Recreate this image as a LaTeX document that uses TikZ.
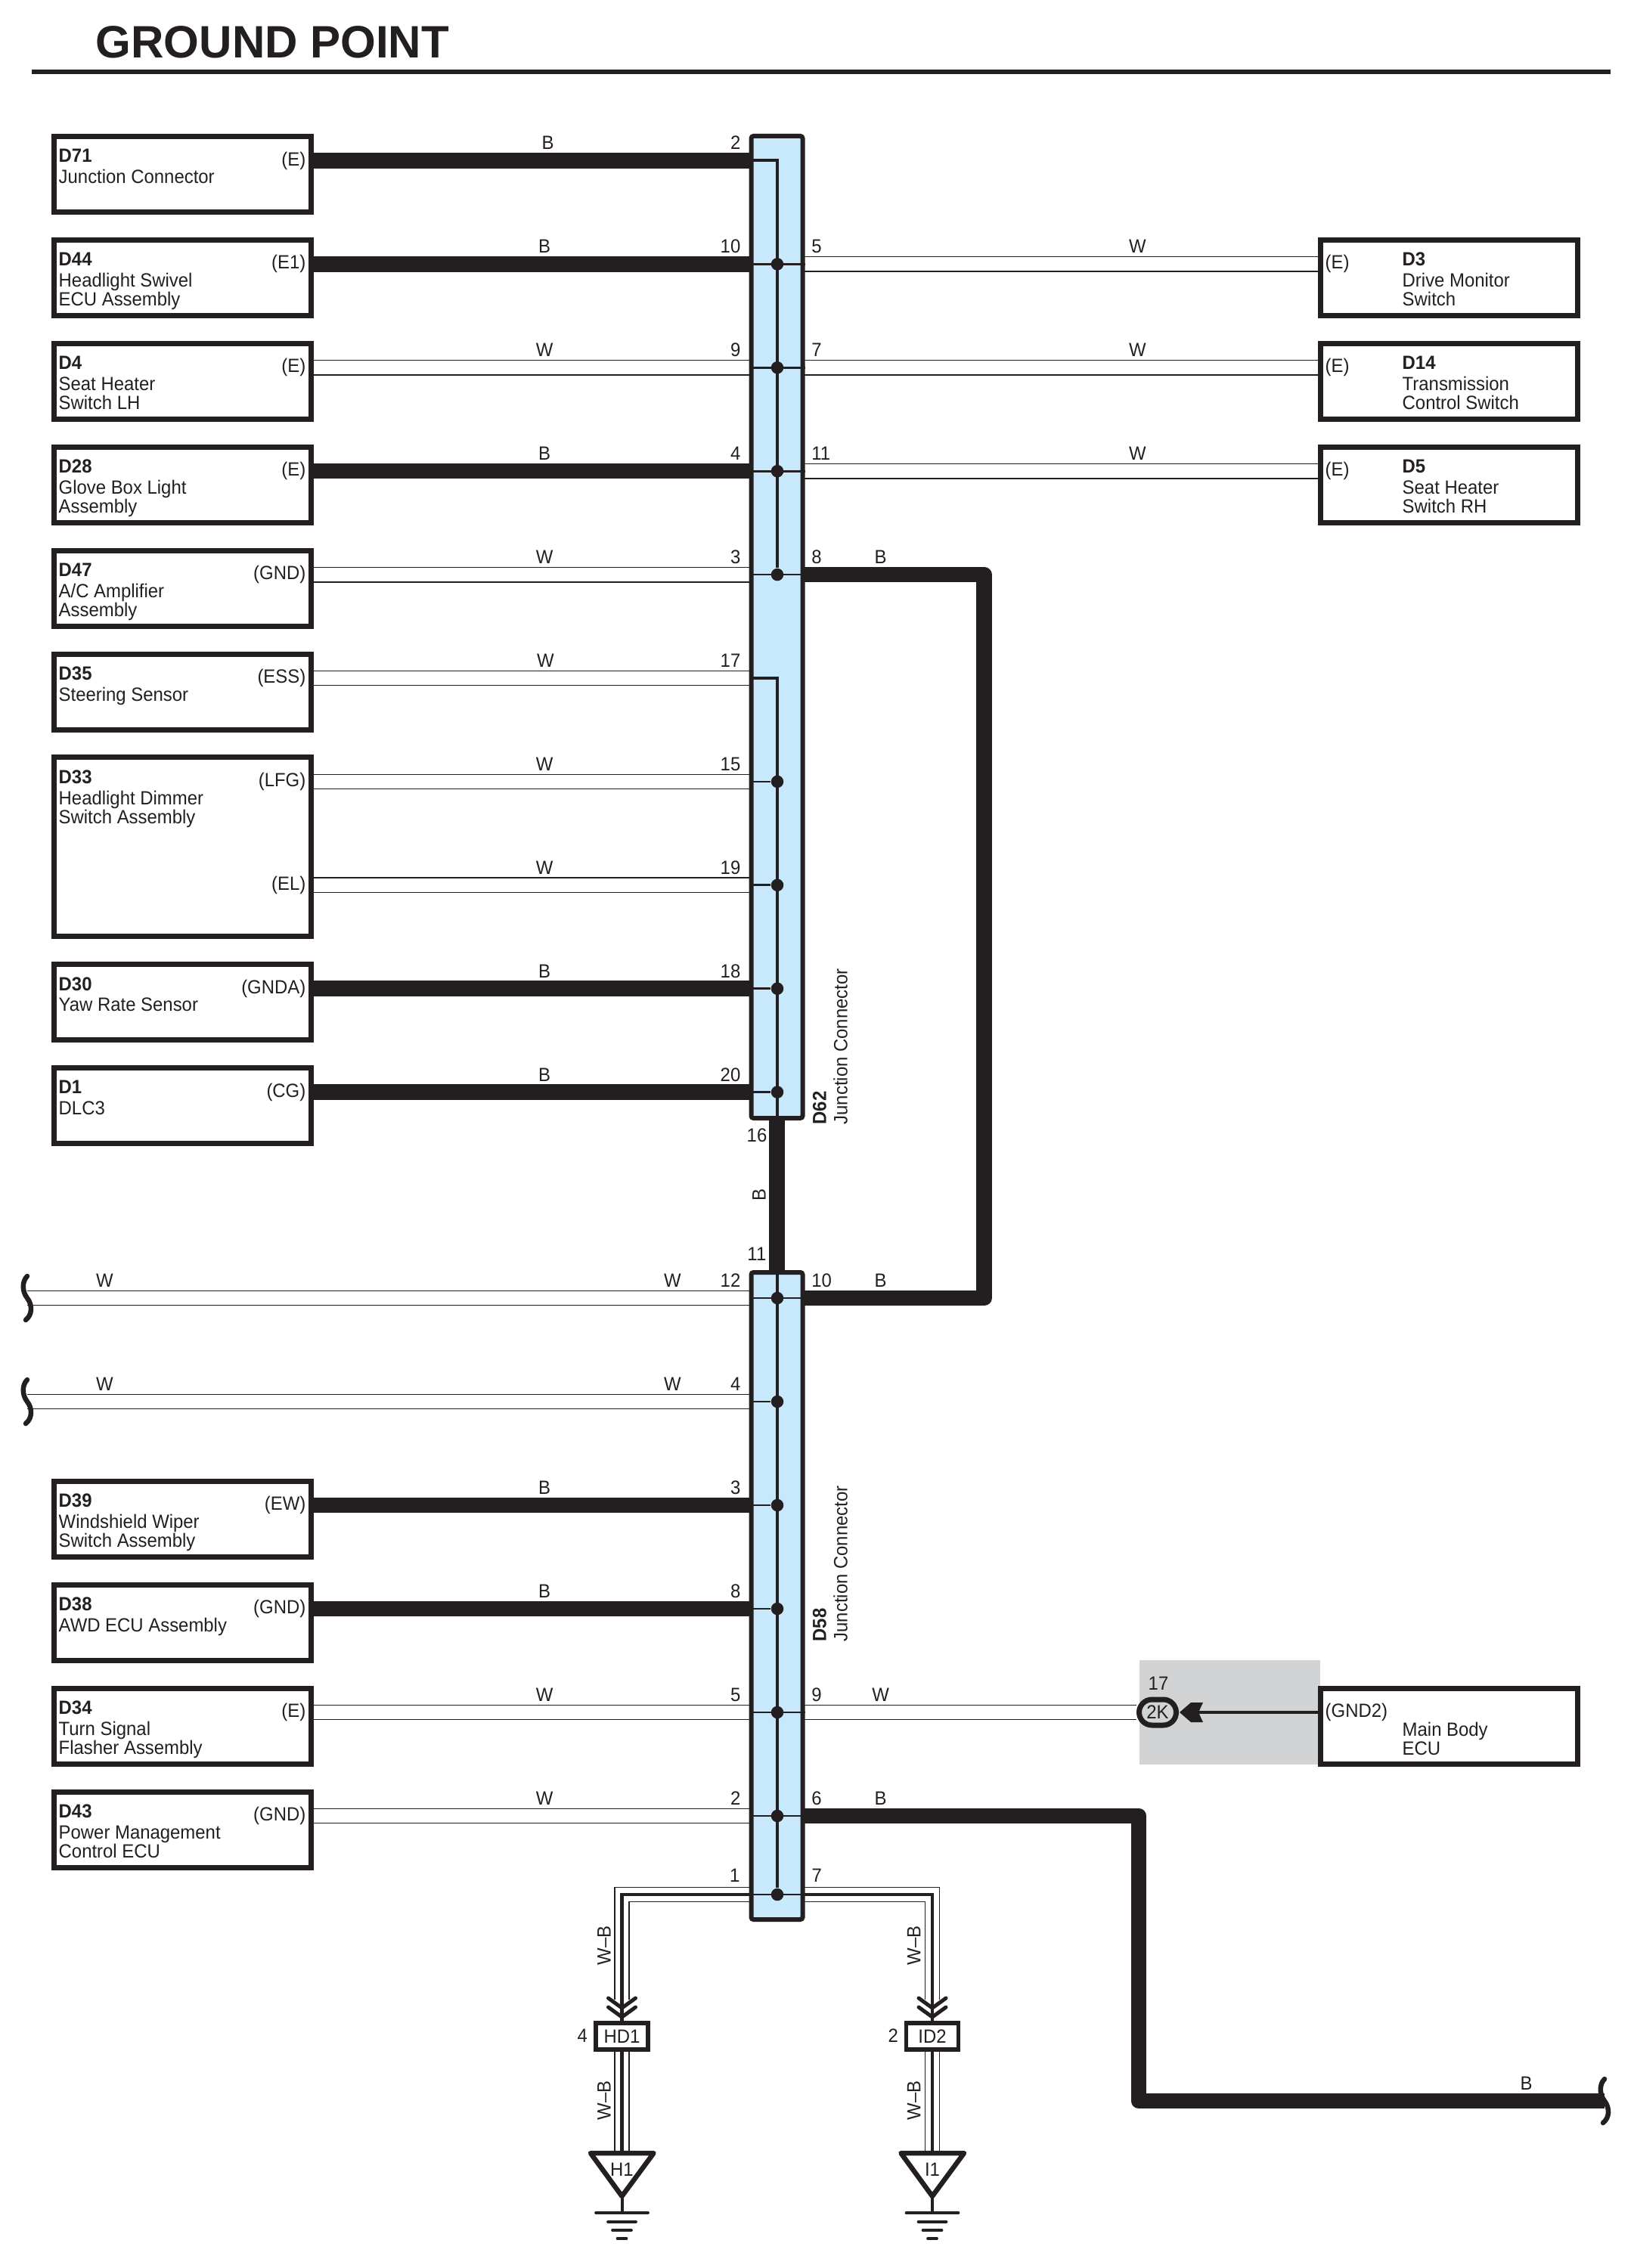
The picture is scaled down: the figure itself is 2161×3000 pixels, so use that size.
\documentclass[tikz,border=0pt]{standalone}
\usepackage{fontspec}
\setmainfont{Liberation Sans}
\newfontfamily\labelfont{Liberation Sans}[FakeStretch=.945]
\usetikzlibrary{backgrounds,shapes.misc}
\definecolor{ink}{HTML}{231F20}
\definecolor{barblue}{HTML}{C8E8FB}
\definecolor{patchgray}{HTML}{D1D3D4}
\tikzset{
	txt/.style={inner sep=0pt,font=\labelfont\fontsize{7.2}{7.11}\selectfont},
	devbox/.style={draw=ink,line width=.7mm,inner sep=0pt,minimum width=34mm,minimum height=10mm},
	devtext/.style={txt,anchor=north west,align=left},
	pintext/.style={txt,anchor=east},
	pinleft/.style={txt,anchor=base east},
	pinright/.style={txt,anchor=base west},
	sidelabel/.style={txt,anchor=base west,rotate=90},
	wirelabel/.style={txt,anchor=base,yshift=1.45mm,pos=.505},
	busbar/.style={draw=ink,fill=barblue,line width=.6mm,rounded corners=.3mm,inner sep=0pt,minimum width=6.8mm},
	jdot/.style={circle,fill=ink,inner sep=0pt,minimum size=1.65mm},
	busline/.style={draw=ink,line width=.27mm},
	busrail/.style={draw=ink,line width=.4mm,line join=miter},
	bwire/.style={draw=ink,line width=2.05mm,line join=round},
	wwire/.style={draw=ink,line width=.14mm,double=white,double distance=1.8mm},
	wbwire/.style={preaction={draw=ink,line width=2.06mm},preaction={draw=white,line width=1.78mm},draw=ink,line width=.46mm},
	stripe/.style={draw=ink,line width=.46mm},
	chevron/.style={draw=ink,line width=.5mm,line cap=round,line join=miter},
	connbox/.style={draw=ink,fill=white,line width=.55mm,inner sep=0pt,minimum width=6.9mm,minimum height=3.5mm,font=\labelfont\fontsize{7.2}{7.11}\selectfont},
	triangleout/.style={draw=ink,line width=.65mm,line join=round},
	gndbar/.style={draw=ink,line width=.37mm,line cap=round},
	cutmark/.pic={\draw[ink,line width=.65mm,line cap=round] (0,-29) .. controls (-7,-22) and (-7,-9) .. (0,0) .. controls (7,9) and (7,22) .. (-2,29);}
}
\begin{document}
\begin{tikzpicture}[x=.1mm,y=-.1mm,color=ink]
	\useasboundingbox (0,0) rectangle (2161,3000);
	\node[inner sep=0pt,anchor=base west,font=\bfseries\fontsize{17.1}{17.1}\selectfont] (title) at (126,77) {GROUND POINT};
	\coordinate (rulea) at (42,95);
	\coordinate (ruleb) at (2130,95);
	\path (rulea) edge[draw=ink,line width=.6mm] (ruleb);

	\node[busbar,minimum height=129.9mm] (d62) at (1027.5,829.5) {};
	\node[busbar,minimum height=85.6mm] (d58) at (1027.5,2111) {};
	\node[sidelabel,font=\labelfont\bfseries\fontsize{7.2}{7.11}\selectfont] (d62no) at (1092.7,1488) {D62};
	\node[sidelabel] (d62txt) at (1120.7,1488) {Junction Connector};
	\node[sidelabel,font=\labelfont\bfseries\fontsize{7.2}{7.11}\selectfont] (d58no) at (1092.7,2172) {D58};
	\node[sidelabel] (d58txt) at (1120.7,2172) {Junction Connector};

	\node[devbox] (d71) at (241.5,230.5) {};
	\node[devbox] (d44) at (241.5,367.4) {};
	\node[devbox] (d4) at (241.5,504.3) {};
	\node[devbox] (d28) at (241.5,641.2) {};
	\node[devbox] (d47) at (241.5,778.1) {};
	\node[devbox] (d35) at (241.5,915) {};
	\node[devbox,minimum height=23.7mm] (d33) at (241.5,1120.3) {};
	\node[devbox] (d30) at (241.5,1325.7) {};
	\node[devbox] (d1) at (241.5,1462.6) {};
	\node[devbox] (d39) at (241.5,2009) {};
	\node[devbox] (d38) at (241.5,2146) {};
	\node[devbox] (d34) at (241.5,2283) {};
	\node[devbox] (d43) at (241.5,2420) {};
	\node[devbox] (d3) at (1916.6,367.4) {};
	\node[devbox] (d14) at (1916.6,504.3) {};
	\node[devbox] (d5) at (1916.6,641.2) {};
	\node[devbox] (mainbody) at (1916.6,2283) {};

	\node[devtext] (d71txt) at (77,196.5) {\textbf{D71}\\[.8pt]Junction Connector};
	\node[devtext] (d44txt) at (77,333.4) {\textbf{D44}\\[.8pt]Headlight Swivel\\ECU Assembly};
	\node[devtext] (d4txt) at (77,470.3) {\textbf{D4}\\[.8pt]Seat Heater\\Switch LH};
	\node[devtext] (d28txt) at (77,607.2) {\textbf{D28}\\[.8pt]Glove Box Light\\Assembly};
	\node[devtext] (d47txt) at (77,744.1) {\textbf{D47}\\[.8pt]A/C Amplifier\\Assembly};
	\node[devtext] (d35txt) at (77,881) {\textbf{D35}\\[.8pt]Steering Sensor};
	\node[devtext] (d33txt) at (77,1017.9) {\textbf{D33}\\[.8pt]Headlight Dimmer\\Switch Assembly};
	\node[devtext] (d30txt) at (77,1291.7) {\textbf{D30}\\[.8pt]Yaw Rate Sensor};
	\node[devtext] (d1txt) at (77,1428.6) {\textbf{D1}\\[.8pt]DLC3};
	\node[devtext] (d39txt) at (77,1975) {\textbf{D39}\\[.8pt]Windshield Wiper\\Switch Assembly};
	\node[devtext] (d38txt) at (77,2112) {\textbf{D38}\\[.8pt]AWD ECU Assembly};
	\node[devtext] (d34txt) at (77,2249) {\textbf{D34}\\[.8pt]Turn Signal\\Flasher Assembly};
	\node[devtext] (d43txt) at (77,2386) {\textbf{D43}\\[.8pt]Power Management\\Control ECU};
	\node[devtext] (d3txt) at (1854,333.4) {\textbf{D3}\\[.8pt]Drive Monitor\\Switch};
	\node[devtext] (d14txt) at (1854,470.3) {\textbf{D14}\\[.8pt]Transmission\\Control Switch};
	\node[devtext] (d5txt) at (1854,607.2) {\textbf{D5}\\[.8pt]Seat Heater\\Switch RH};
	\node[devtext] (mainbodytxt) at (1854,2277) {Main Body\\ECU};

	\node[pintext] (d71pin) at (405,212.5) {(E)};
	\node[pintext] (d44pin) at (405,349.4) {(E1)};
	\node[pintext] (d4pin) at (405,486.3) {(E)};
	\node[pintext] (d28pin) at (405,623.2) {(E)};
	\node[pintext] (d47pin) at (405,760.1) {(GND)};
	\node[pintext] (d35pin) at (405,897) {(ESS)};
	\node[pintext] (d33pina) at (405,1033.9) {(LFG)};
	\node[pintext] (d33pinb) at (405,1170.8) {(EL)};
	\node[pintext] (d30pin) at (405,1307.7) {(GNDA)};
	\node[pintext] (d1pin) at (405,1444.6) {(CG)};
	\node[pintext] (d39pin) at (405,1991) {(EW)};
	\node[pintext] (d38pin) at (405,2128) {(GND)};
	\node[pintext] (d34pin) at (405,2265) {(E)};
	\node[pintext] (d43pin) at (405,2402) {(GND)};
	\node[pintext,anchor=west] (d3pin) at (1752,349.4) {(E)};
	\node[pintext,anchor=west] (d14pin) at (1752,486.3) {(E)};
	\node[pintext,anchor=west] (d5pin) at (1752,623.2) {(E)};
	\node[pintext,anchor=west] (mainpin) at (1752,2265) {(GND2)};

	\coordinate (a2) at (1028,212.5);
	\node[jdot] (a10) at (1028,349.4) {};
	\node[jdot] (a9) at (1028,486.3) {};
	\node[jdot] (a4) at (1028,623.2) {};
	\node[jdot] (a3) at (1028,760.1) {};
	\coordinate (a17) at (1028,897);
	\node[jdot] (a15) at (1028,1033.9) {};
	\node[jdot] (a19) at (1028,1170.8) {};
	\node[jdot] (a18) at (1028,1307.7) {};
	\node[jdot] (a20) at (1028,1444.6) {};
	\node[jdot] (b12) at (1028,1717) {};
	\node[jdot] (b4) at (1028,1854) {};
	\node[jdot] (b3) at (1028,1991) {};
	\node[jdot] (b8) at (1028,2128) {};
	\node[jdot] (b5) at (1028,2265) {};
	\node[jdot] (b2) at (1028,2402) {};
	\node[jdot] (b1) at (1028,2506) {};

	\draw[busrail] (a2 -| d62.west) -- (a2) -- (a3);
	\draw[busrail] (a17 -| d62.west) -- (a17) -- (a17 |- d62.south);
	\draw[busrail] (b12 |- d58.north) -- (b1);
	\path (a10 -| d62.west) edge[busline] (a10 -| d62.east);
	\path (a9 -| d62.west) edge[busline] (a9 -| d62.east);
	\path (a4 -| d62.west) edge[busline] (a4 -| d62.east);
	\path (a3 -| d62.west) edge[busline] (a3 -| d62.east);
	\path (a15 -| d62.west) edge[busline] (a15);
	\path (a19 -| d62.west) edge[busline] (a19);
	\path (a18 -| d62.west) edge[busline] (a18);
	\path (a20 -| d62.west) edge[busline] (a20);
	\path (b12 -| d58.west) edge[busline] (b12 -| d58.east);
	\path (b4 -| d58.west) edge[busline] (b4);
	\path (b3 -| d58.west) edge[busline] (b3);
	\path (b8 -| d58.west) edge[busline] (b8);
	\path (b5 -| d58.west) edge[busline] (b5 -| d58.east);
	\path (b2 -| d58.west) edge[busline] (b2 -| d58.east);
	\path (b1 -| d58.west) edge[busline] (b1 -| d58.east);

	\node[pinleft] (n2) at (980,198) {2};
	\node[pinleft] (n10) at (980,334.9) {10};
	\node[pinleft] (n9) at (980,471.8) {9};
	\node[pinleft] (n4) at (980,608.7) {4};
	\node[pinleft] (n3) at (980,745.6) {3};
	\node[pinleft] (n17) at (980,882.5) {17};
	\node[pinleft] (n15) at (980,1019.4) {15};
	\node[pinleft] (n19) at (980,1156.3) {19};
	\node[pinleft] (n18) at (980,1293.2) {18};
	\node[pinleft] (n20) at (980,1430.1) {20};
	\node[pinleft] (n16) at (1015,1510) {16};
	\node[pinleft] (m11) at (1014,1667.7) {11};
	\node[pinleft] (m12) at (980,1702.5) {12};
	\node[pinleft] (m4) at (980,1839.5) {4};
	\node[pinleft] (m3) at (980,1976.5) {3};
	\node[pinleft] (m8) at (980,2113.5) {8};
	\node[pinleft] (m5) at (980,2250.5) {5};
	\node[pinleft] (m2) at (980,2387.5) {2};
	\node[pinleft] (m1) at (979,2489) {1};
	\node[pinright] (r5) at (1072.6,334.9) {5};
	\node[pinright] (r7) at (1072.6,471.8) {7};
	\node[pinright] (r11) at (1072.6,608.7) {11};
	\node[pinright] (r8) at (1072.6,745.6) {8};
	\node[pinright] (s10) at (1072.6,1702.5) {10};
	\node[pinright] (s9) at (1072.6,2250.5) {9};
	\node[pinright] (s6) at (1072.6,2387.5) {6};
	\node[pinright] (s7) at (1073,2489) {7};
	\node[txt,anchor=base,rotate=90] (busb) at (1012.7,1581) {B};

	\node[connbox] (hd1) at (822.5,2693.4) {HD1};
	\node[connbox] (id2) at (1233,2693.4) {ID2};
	\node[pinleft] (hd1pin) at (777.7,2701) {4};
	\node[pinleft] (id2pin) at (1188.7,2701) {2};
	\node[sidelabel] (wba) at (807.5,2600) {W–B};
	\node[sidelabel] (wbb) at (807.5,2805) {W–B};
	\node[sidelabel] (wbc) at (1217.4,2600) {W–B};
	\node[sidelabel] (wbd) at (1217.4,2805) {W–B};
	\coordinate (taila) at (822.5,2645);
	\coordinate (tailb) at (1233,2645);
	\coordinate (topa) at (822.5,2848);
	\coordinate (topb) at (1233,2848);
	\coordinate (tipa) at (822.5,2905);
	\coordinate (tipb) at (1233,2905);
	\coordinate (gnda) at (822.5,2927);
	\coordinate (gndb) at (1233,2927);
	\draw[chevron] (804.5,2643) -- (822.5,2656) -- (840.5,2643);
	\draw[chevron] (804.5,2655) -- (822.5,2668) -- (840.5,2655);
	\draw[chevron] (1215,2643) -- (1233,2656) -- (1251,2643);
	\draw[chevron] (1215,2655) -- (1233,2668) -- (1251,2655);
	\node[txt] (h1) at (822.5,2869.5) {H1};
	\node[txt] (i1) at (1233,2869.5) {I1};
	\draw[triangleout] (781,2848) -- (864.5,2848) -- (tipa) -- cycle;
	\draw[triangleout] (1191.5,2848) -- (1275,2848) -- (tipb) -- cycle;
	\path (tipa) edge[busrail] (gnda);
	\path (tipb) edge[busrail] (gndb);
	\draw[gndbar] (788,2927) -- (857,2927);
	\draw[gndbar] (804,2938.7) -- (841,2938.7);
	\draw[gndbar] (810,2950) -- (835,2950);
	\draw[gndbar] (816.5,2961) -- (828.5,2961);
	\draw[gndbar] (1198.5,2927) -- (1267.5,2927);
	\draw[gndbar] (1214.5,2938.7) -- (1251.5,2938.7);
	\draw[gndbar] (1220.5,2950) -- (1245.5,2950);
	\draw[gndbar] (1227,2961) -- (1239,2961);

	\coordinate (cuta) at (36,1717);
	\coordinate (cutb) at (36,1854);
	\coordinate (cutc) at (2122,2779);
	\pic at (cuta) {cutmark};
	\pic at (cutb) {cutmark};
	\pic at (cutc) {cutmark};
	\coordinate (viaa) at (1301.5,760.1);
	\coordinate (viab) at (1506,2402);
	\coordinate (viac) at (1506,2779);
	\coordinate (arrow2k) at (1560,2265);
	\coordinate (arrowend) at (1583,2265);

	\begin{scope}[on background layer]
		\fill[patchgray] (1506.5,2196) rectangle (1746,2334);
		\node[draw=ink,fill=patchgray,rounded rectangle,line width=.7mm,inner sep=0pt,minimum width=4.9mm,minimum height=3.4mm,font=\labelfont\fontsize{7.2}{7.11}\selectfont] (conn2k) at (1531,2265) {2K};
		\node[txt] (no17) at (1532,2227) {17};
		\path (d71.east |- a2) edge[bwire] node[wirelabel] (wa2) {B} (a2);
		\path (d44.east |- a10) edge[bwire] node[wirelabel] (wa10) {B} (a10);
		\path (d4.east |- a9) edge[wwire] node[wirelabel] (wa9) {W} (a9);
		\path (d28.east |- a4) edge[bwire] node[wirelabel] (wa4) {B} (a4);
		\path (d47.east |- a3) edge[wwire] node[wirelabel] (wa3) {W} (a3);
		\path (d35.east |- a17) edge[wwire] node[wirelabel,pos=.5] (wa17) {W} (a17);
		\path (d33.east |- a15) edge[wwire] node[wirelabel] (wa15) {W} (a15);
		\path (d33.east |- a19) edge[wwire] node[wirelabel] (wa19) {W} (a19);
		\path (d30.east |- a18) edge[bwire] node[wirelabel] (wa18) {B} (a18);
		\path (d1.east |- a20) edge[bwire] node[wirelabel] (wa20) {B} (a20);
		\path (a10) edge[wwire] node[wirelabel,pos=.662] (wr5) {W} (d3.west |- a10);
		\path (a9) edge[wwire] node[wirelabel,pos=.662] (wr7) {W} (d14.west |- a9);
		\path (a4) edge[wwire] node[wirelabel,pos=.662] (wr11) {W} (d5.west |- a4);
		\path (d62.south) edge[bwire] (d58.north);
		\draw[bwire] (a3) -- node[wirelabel,pos=.482] (wr8) {B} (viaa) -- (viaa |- b12) -- node[wirelabel,pos=.518] (wr10) {B} (b12);
		\path (cuta) edge[wwire] node[wirelabel,pos=.1043] (wc12) {W} node[wirelabel,pos=.868] (wd12) {W} (b12);
		\path (cutb) edge[wwire] node[wirelabel,pos=.1043] (wc4) {W} node[wirelabel,pos=.868] (wd4) {W} (b4);
		\path (d39.east |- b3) edge[bwire] node[wirelabel] (wb3) {B} (b3);
		\path (d38.east |- b8) edge[bwire] node[wirelabel] (wb8) {B} (b8);
		\path (d34.east |- b5) edge[wwire] node[wirelabel] (wb5) {W} (b5);
		\path (d43.east |- b2) edge[wwire] node[wirelabel] (wb2) {W} (b2);
		\path (b5) edge[wwire] node[wirelabel,pos=.274] (wb9) {W} (conn2k.west);
		\draw[bwire] (b2) -- node[wirelabel,pos=.272] (wb6) {B} (viab) -- (viac) -- node[wirelabel,pos=.832] (wbe) {B} (cutc);
		\draw[wbwire] (b1) -- (hd1 |- b1) -- (taila);
		\draw[wbwire] (b1) -- (id2 |- b1) -- (tailb);
		\path (taila) edge[stripe] (hd1.north);
		\path (tailb) edge[stripe] (id2.north);
		\path (hd1.south) edge[wbwire] (topa);
		\path (id2.south) edge[wbwire] (topb);
		\path (arrowend) edge[draw=ink,line width=.4mm] (mainbody.west |- arrow2k);
		\fill[ink] (arrow2k) -- ++(15,-13) -- ++(16,0) -- ++(-6,13) -- ++(6,13) -- ++(-16,0) -- cycle;
	\end{scope}
\end{tikzpicture}
\end{document}
